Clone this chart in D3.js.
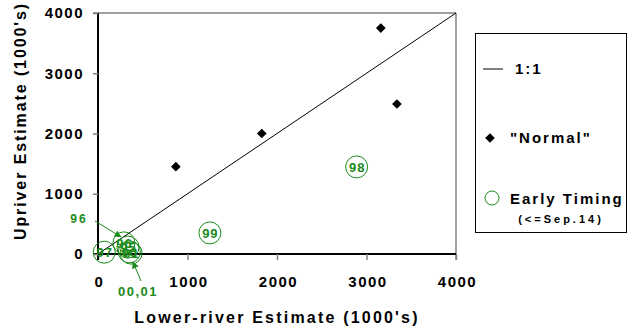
<!DOCTYPE html>
<html>
<head>
<meta charset="utf-8">
<title>Upriver vs Lower-river</title>
<script src="https://cdn.jsdelivr.net/npm/d3@7"></script>
<style>
	body { margin: 0; background: #fff; }
	text { font-family: "Liberation Sans", Arial, sans-serif; font-weight: bold; }
</style>
</head>
<body>
<script>
// "Normal" timing years: lower-river vs upriver estimates (1000's)
var normalLower = [870, 1830, 3160, 3340];
var normalUpper = [1450, 2000, 3750, 2490];

// early timing years
var earlyLabels = ["97", "96", "95", "00", "01", "99", "98"];
var earlyLower = [70, 290, 335, 350, 370, 1250, 2890];
var earlyUpper = [30, 185, 115, 35, 15, 350, 1445];

var tickValues = [0, 1000, 2000, 3000, 4000];
var green = "#1a8a1a";

var width = 629, height = 329;
var svg = d3.select("body").append("svg").attr("width", width).attr("height", height);

var x = d3.scaleLinear().domain([0, 4000]).range([98, 456]);
var y = d3.scaleLinear().domain([0, 4000]).range([254, 13]);

// frame: gray top / right
svg.append("line").attr("x1", 93).attr("x2", x(4000)).attr("y1", y(4000)).attr("y2", y(4000))
	.attr("stroke", "#808080").attr("stroke-width", 1.5);
svg.append("line").attr("x1", x(4000)).attr("x2", x(4000)).attr("y1", y(4000)).attr("y2", y(0) + 6)
	.attr("stroke", "#808080").attr("stroke-width", 1.5);

var xAxis = d3.axisBottom(x).tickValues(tickValues).tickSize(6).tickSizeOuter(0).tickFormat(d3.format("d"));
var yAxis = d3.axisLeft(y).tickValues(tickValues).tickSize(5).tickSizeOuter(0).tickFormat(d3.format("d"));

var gx = svg.append("g").attr("transform", "translate(0," + y(0) + ")").call(xAxis);
gx.select(".domain").attr("stroke", "#000").attr("stroke-width", 2).attr("d", "M93,0H" + x(4000));
gx.selectAll(".tick line").attr("stroke", "#808080").attr("stroke-width", 1.5);
gx.selectAll(".tick text").attr("y", 33).attr("dy", 0).attr("dx", 1).attr("font-size", 15).attr("letter-spacing", 1.5)
	.attr("fill", "#000").attr("font-family", "Liberation Sans, Arial, sans-serif").attr("font-weight", "bold");

var gy = svg.append("g").attr("transform", "translate(" + x(0) + ",0)").call(yAxis);
gy.select(".domain").attr("stroke", "#000").attr("stroke-width", 2).attr("d", "M0," + (y(0) + 6) + "V" + y(4000));
gy.selectAll(".tick line").attr("stroke", "#808080").attr("stroke-width", 1.5);
gy.selectAll(".tick text").attr("x", -14).attr("font-size", 15).attr("letter-spacing", 1.5)
	.attr("fill", "#000").attr("font-family", "Liberation Sans, Arial, sans-serif").attr("font-weight", "bold");

// 1:1 line
svg.append("line").attr("x1", x(0)).attr("y1", y(0)).attr("x2", x(4000)).attr("y2", y(4000))
	.attr("stroke", "#000").attr("stroke-width", 1);

// normal diamonds
var diamond = d3.symbol().type(d3.symbolDiamond2).size(60);
svg.selectAll("path.normal").data(normalLower).enter().append("path")
	.attr("class", "normal")
	.attr("d", diamond)
	.attr("transform", function(d, i) { return "translate(" + x(d) + "," + y(normalUpper[i]) + ")"; })
	.attr("fill", "#000");

// early timing circles
var early = svg.selectAll("g.early").data(earlyLabels).enter().append("g")
	.attr("class", "early")
	.attr("transform", function(d, i) { return "translate(" + x(earlyLower[i]) + "," + y(earlyUpper[i]) + ")"; });
early.append("circle").attr("r", 11).attr("fill", "none").attr("stroke", green).attr("stroke-width", 1);
early.append("text").attr("text-anchor", "middle").attr("dy", "0.36em").attr("dx", 0.5).attr("font-size", 13)
	.attr("letter-spacing", 1).attr("fill", green).text(function(d) { return d; });

// arrow annotations
svg.append("defs").append("marker").attr("id", "arr").attr("viewBox", "0 0 10 10")
	.attr("refX", 9).attr("refY", 5).attr("markerWidth", 7).attr("markerHeight", 7)
	.attr("orient", "auto").append("path").attr("d", "M0,0L10,5L0,10z").attr("fill", green);

svg.append("line").attr("x1", 95).attr("y1", 221).attr("x2", x(290) - 3).attr("y2", y(185) - 6)
	.attr("stroke", green).attr("stroke-width", 1).attr("marker-end", "url(#arr)");
svg.append("text").attr("x", 79).attr("y", 223).attr("text-anchor", "middle").attr("font-size", 12)
	.attr("letter-spacing", 2).attr("fill", green).text("96");

svg.append("line").attr("x1", 141).attr("y1", 281).attr("x2", 133).attr("y2", 262)
	.attr("stroke", green).attr("stroke-width", 1).attr("marker-end", "url(#arr)");
svg.append("text").attr("x", 138).attr("y", 296).attr("text-anchor", "middle").attr("font-size", 13)
	.attr("letter-spacing", 1.5).attr("fill", green).text("00,01");

// axis titles
svg.append("text").attr("x", 277).attr("y", 323).attr("text-anchor", "middle").attr("font-size", 16)
	.attr("letter-spacing", 2.2).attr("fill", "#000").text("Lower-river Estimate (1000's)");
svg.append("text").attr("transform", "translate(26,121) rotate(-90)").attr("text-anchor", "middle")
	.attr("font-size", 16).attr("letter-spacing", 1.9).attr("fill", "#000").text("Upriver Estimate (1000's)");

// legend
var lg = svg.append("g");
lg.append("rect").attr("x", 475.5).attr("y", 33.5).attr("width", 151).attr("height", 199)
	.attr("fill", "#fff").attr("stroke", "#000").attr("stroke-width", 1);
lg.append("line").attr("x1", 483).attr("x2", 503).attr("y1", 69).attr("y2", 69).attr("stroke", "#000");
lg.append("text").attr("x", 515).attr("y", 74).attr("font-size", 15).attr("letter-spacing", 2).text("1:1");
lg.append("path").attr("d", diamond).attr("transform", "translate(490,138)").attr("fill", "#000");
lg.append("text").attr("x", 510).attr("y", 143).attr("font-size", 15).attr("letter-spacing", 2).text("\"Normal\"");
lg.append("circle").attr("cx", 492).attr("cy", 198).attr("r", 7).attr("fill", "none").attr("stroke", green);
lg.append("text").attr("x", 510).attr("y", 204).attr("font-size", 15).attr("letter-spacing", 2).text("Early Timing");
lg.append("text").attr("x", 561).attr("y", 223).attr("text-anchor", "middle").attr("font-size", 11)
	.attr("letter-spacing", 3).text("(<=Sep.14)");
</script>
</body>
</html>
